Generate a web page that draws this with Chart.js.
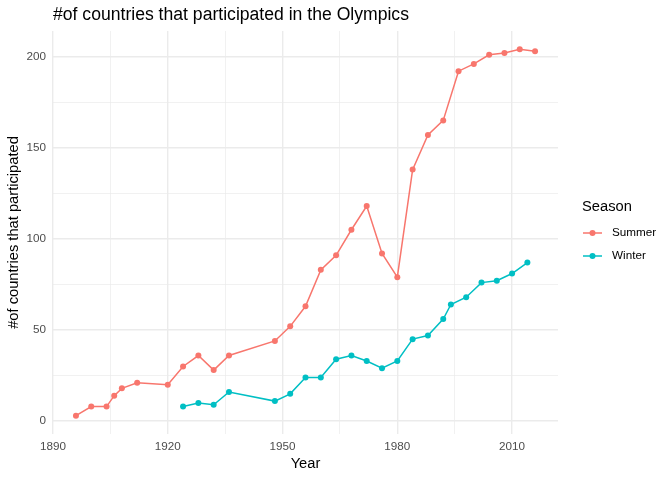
<!DOCTYPE html>
<html>
<head>
<meta charset="utf-8">
<script src="https://cdn.jsdelivr.net/npm/chart.js@4"></script>
<style>
  html, body { margin: 0; padding: 0; background: #ffffff; }
  #wrap { width: 672px; height: 480px; }
</style>
</head>
<body>
<div id="wrap"><canvas id="olympicsChart" width="672" height="480"></canvas></div>
<script>
// Summer games
const summerYears = [1896, 1900, 1904, 1906, 1908, 1912, 1920, 1924, 1928, 1932, 1936, 1948, 1952, 1956, 1960,
    1964, 1968, 1972, 1976, 1980, 1984, 1988, 1992, 1996, 2000, 2004, 2008, 2012, 2016];
const summerCounts = [3, 8, 8, 14, 18, 21, 20, 30, 36, 28, 36, 44, 52, 63, 83,
    91, 105, 118, 92, 79, 138, 157, 165, 192, 196, 201, 202, 204, 203];

// Winter games
const winterYears = [1924, 1928, 1932, 1936, 1948, 1952, 1956, 1960, 1964, 1968, 1972, 1976, 1980, 1984,
    1988, 1992, 1994, 1998, 2002, 2006, 2010, 2014];
const winterCounts = [8, 10, 9, 16, 11, 15, 24, 24, 34, 36, 33, 29, 33, 45,
    47, 56, 64, 68, 76, 77, 81, 87];

const xTicks = [1890, 1905, 1920, 1935, 1950, 1965, 1980, 1995, 2010];
const xLabels = [1890, 1920, 1950, 1980, 2010];
const yTicks = [0, 25, 50, 75, 100, 125, 150, 175, 200];
const yLabels = [0, 50, 100, 150, 200];

const chartTitle = "#of countries that participated in the Olympics";
const legendTitle = "Season";

const FONT = "'Liberation Sans', Arial, Helvetica, sans-serif";
const GRID = "#EBEBEB";

function toPoints(xs, ys) {
    return xs.map((x, i) => ({ x: x, y: ys[i] }));
}

// ggplot-ish title + legend drawn on top of the chart
const ggDecor = {
    id: "ggDecor",
    afterDraw(chart) {
        const c = chart.ctx;
        const area = chart.chartArea;
        c.save();
        c.fillStyle = "#000000";
        c.textAlign = "left";
        c.textBaseline = "alphabetic";
        c.font = "17.6px " + FONT;
        c.fillText(chartTitle, area.left, 20);

        // legend
        c.font = "14.7px " + FONT;
        c.textBaseline = "middle";
        c.fillText(legendTitle, 582, 207);
        c.font = "11.7px " + FONT;
        chart.data.datasets.forEach((ds, i) => {
            const y = 233 + i * 23;
            c.strokeStyle = ds.borderColor;
            c.lineWidth = 1.5;
            c.beginPath();
            c.moveTo(583, y);
            c.lineTo(602, y);
            c.stroke();
            c.fillStyle = ds.backgroundColor;
            c.beginPath();
            c.arc(592.5, y, 3, 0, Math.PI * 2);
            c.fill();
            c.fillStyle = "#000000";
            c.fillText(ds.label, 612, y);
        });
        c.restore();
    }
};

const ctx = document.getElementById("olympicsChart").getContext("2d");

new Chart(ctx, {
    type: "line",
    data: {
        datasets: [{
            label: "Summer",
            data: toPoints(summerYears, summerCounts),
            borderColor: "#F8766D",
            backgroundColor: "#F8766D",
            borderWidth: 1.5,
            pointRadius: 3,
            pointBorderWidth: 0,
            pointHoverRadius: 3,
            tension: 0
        }, {
            label: "Winter",
            data: toPoints(winterYears, winterCounts),
            borderColor: "#00BFC4",
            backgroundColor: "#00BFC4",
            borderWidth: 1.5,
            pointRadius: 3,
            pointBorderWidth: 0,
            pointHoverRadius: 3,
            tension: 0
        }]
    },
    options: {
        responsive: false,
        animation: false,
        devicePixelRatio: 1,
        layout: {
            padding: { left: 0, right: 114, top: 31, bottom: 0 }
        },
        scales: {
            x: {
                type: "linear",
                min: 1890,
                max: 2022,
                afterBuildTicks: (scale) => { scale.ticks = xTicks.map(v => ({ value: v })); },
                afterFit: (scale) => { scale.height = 46; },
                border: { display: false },
                grid: {
                    color: GRID,
                    drawTicks: false,
                    lineWidth: (c) => xLabels.includes(c.tick.value) ? 1.4 : 0.7
                },
                ticks: {
                    padding: 6,
                    color: "#4D4D4D",
                    font: { family: FONT, size: 11.7 },
                    autoSkip: false,
                    maxRotation: 0,
                    callback: (v) => xLabels.includes(v) ? String(v) : ""
                },
                title: {
                    display: true,
                    text: "Year",
                    color: "#000000",
                    font: { family: FONT, size: 14.7 },
                    padding: { top: 2, bottom: 7 }
                }
            },
            y: {
                min: -7.05,
                max: 214.05,
                afterBuildTicks: (scale) => { scale.ticks = yTicks.map(v => ({ value: v })); },
                afterFit: (scale) => { scale.width = 53; },
                border: { display: false },
                grid: {
                    color: GRID,
                    drawTicks: false,
                    lineWidth: (c) => yLabels.includes(c.tick.value) ? 1.4 : 0.7
                },
                ticks: {
                    padding: 7,
                    color: "#4D4D4D",
                    font: { family: FONT, size: 11.7 },
                    autoSkip: false,
                    callback: (v) => yLabels.includes(v) ? String(v) : ""
                },
                title: {
                    display: true,
                    text: "#of countries that participated",
                    color: "#000000",
                    font: { family: FONT, size: 14.7 },
                    padding: { top: 5, bottom: 0 }
                }
            }
        },
        plugins: {
            legend: { display: false },
            tooltip: { enabled: false }
        }
    },
    plugins: [ggDecor]
});
</script>
</body>
</html>
